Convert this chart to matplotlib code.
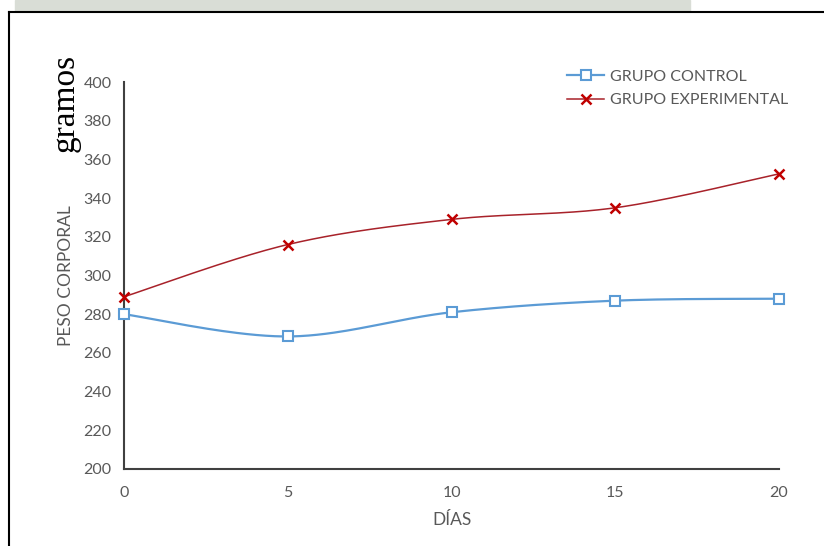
import matplotlib.pyplot as plt
import numpy as np
from matplotlib.lines import Line2D

dias = [0, 5, 10, 15, 20]
control = [280, 268.5, 281, 287, 288]
experimental = [289, 316, 329, 335, 352.5]
yticks = [200, 220, 240, 260, 280, 300, 320, 340, 360, 380, 400]

azul = "#5b9bd5"
rojo = "#c00000"
rojo_linea = "#a8222a"
gris = "#595959"


def suavizar(x, y, n=40):
    # curva tipo Catmull-Rom entre puntos, como la linea suavizada de Excel
    x = np.asarray(x, float)
    y = np.asarray(y, float)
    px = np.concatenate([[x[0]], x, [x[-1]]])
    py = np.concatenate([[y[0]], y, [y[-1]]])
    xs, ys = [], []
    for i in range(1, len(px) - 2):
        p0, p1, p2, p3 = [np.array([px[j], py[j]]) for j in (i - 1, i, i + 1, i + 2)]
        c1 = p1 + (p2 - p0) / 6
        c2 = p2 - (p3 - p1) / 6
        t = np.linspace(0, 1, n)[:, None]
        b = (1 - t) ** 3 * p1 + 3 * (1 - t) ** 2 * t * c1 + 3 * (1 - t) * t ** 2 * c2 + t ** 3 * p2
        xs.extend(b[:, 0])
        ys.extend(b[:, 1])
    return np.array(xs), np.array(ys)


plt.rcParams['font.family'] = ['Lato', 'DejaVu Sans']
fig = plt.figure(figsize=(8.24, 5.46), dpi=100)
ax = fig.add_axes([124 / 824, 1 - 469 / 546, (779 - 124) / 824, (469 - 82) / 546])

xc, yc = suavizar(dias, control)
xe, ye = suavizar(dias, experimental)
ax.plot(xc, yc, color=azul, lw=1.6, zorder=3)
ax.plot(xe, ye, color=rojo_linea, lw=1.1, zorder=3)
ax.plot(dias, control, ls="none", marker="s", ms=7, mfc="white", mec=azul, mew=1.5, zorder=4, clip_on=False)
ax.plot(dias, experimental, ls="none", marker="x", ms=7.5, mec=rojo, mew=1.8, zorder=4, clip_on=False)

ax.set_xlim(0, 20)
ax.set_ylim(200, 400)
ax.set_xticks(dias)
ax.set_yticks(yticks)
for s in ("top", "right"):
    ax.spines[s].set_visible(False)
for s in ("left", "bottom"):
    ax.spines[s].set_color("#404040")
    ax.spines[s].set_linewidth(1.5)
ax.tick_params(length=0, labelsize=11.5, colors=gris, pad=9)
ax.tick_params(axis="x", pad=12)

ax.set_xlabel("DÍAS", fontsize=12.5, color=gris, labelpad=9)
ax.set_ylabel("PESO CORPORAL", fontsize=12.5, color=gris, labelpad=7)
fig.text(65 / 824, 1 - 103 / 546, "gramos", rotation=90, fontsize=24,
         family="Liberation Serif", color="black", ha="center", va="center")

handles = [
    Line2D([], [], color=azul, lw=1.6, marker="s", ms=7, mfc="white", mec=azul, mew=1.5),
    Line2D([], [], color=rojo_linea, lw=1.1, marker="x", ms=7.5, mec=rojo, mew=1.8),
]
ax.legend(handles, ["GRUPO CONTROL", "GRUPO EXPERIMENTAL"], loc="upper left",
          bbox_to_anchor=(553 / 824, 1 - 55 / 546), bbox_transform=fig.transFigure,
          frameon=False, fontsize=11.5, labelcolor=gris, handlelength=2.3,
          handletextpad=0.4, labelspacing=0.6)

# marco de la pagina
fig.add_artist(Line2D([9 / 824, 9 / 824], [0, 1 - 12 / 546], color="black", lw=1.5))
fig.add_artist(Line2D([9 / 824, 1], [1 - 12 / 546, 1 - 12 / 546], color="black", lw=1.5))
fig.patches.append(plt.Rectangle((15 / 824, 1 - 11 / 546), 675 / 824, 11 / 546,
                                 transform=fig.transFigure, color="#d9ddd6", zorder=0))

fig.savefig("out.png", dpi=100)
